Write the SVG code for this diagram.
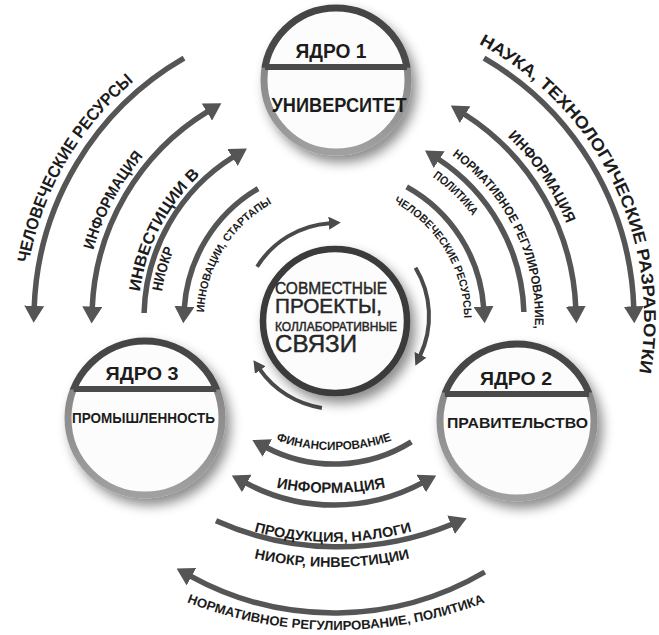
<svg xmlns="http://www.w3.org/2000/svg" width="659" height="635" viewBox="0 0 659 635">
<defs>
<style>
.lbl{font-family:"Liberation Sans",Arial,sans-serif;font-weight:700;fill:#1c1c1c}
.ctr{font-family:"Liberation Sans",Arial,sans-serif;font-weight:400;fill:#262626;stroke:#262626;stroke-width:0.45}
.arc{fill:none;stroke:#555;stroke-width:5.5}
.arcS{fill:none;stroke:#4a4a4a;stroke-width:4}
.ring{fill:#fcfcfc;stroke-width:7}
.div{stroke:#4a4a4a;stroke-width:6}
</style>
<linearGradient id="gTop" x1="0" y1="0" x2="0" y2="1">
<stop offset="0" stop-color="#444"/><stop offset="0.41" stop-color="#4a4a4a"/><stop offset="0.42" stop-color="#888"/><stop offset="1" stop-color="#a0a0a0"/>
</linearGradient>
<linearGradient id="gSide" x1="0" y1="0" x2="0" y2="1">
<stop offset="0" stop-color="#444"/><stop offset="0.31" stop-color="#4a4a4a"/><stop offset="0.32" stop-color="#888"/><stop offset="1" stop-color="#a0a0a0"/>
</linearGradient>
<marker id="ah" viewBox="0 0 10 10" refX="1" refY="5" markerWidth="17" markerHeight="20" markerUnits="userSpaceOnUse" orient="auto-start-reverse" preserveAspectRatio="none">
<path d="M0,0 L10,5 L0,10 z" fill="#555"/>
</marker>
<marker id="ahS" viewBox="0 0 10 10" refX="1" refY="5" markerWidth="12" markerHeight="13" markerUnits="userSpaceOnUse" orient="auto" preserveAspectRatio="none">
<path d="M0,0 L10,5 L0,10 z" fill="#4a4a4a"/>
</marker>
<filter id="sh" x="-30%" y="-30%" width="170%" height="170%">
<feGaussianBlur in="SourceAlpha" stdDeviation="6"/>
<feOffset dx="5" dy="7" result="b"/>
<feFlood flood-color="#000" flood-opacity="0.45"/>
<feComposite in2="b" operator="in"/>
<feMerge><feMergeNode/><feMergeNode in="SourceGraphic"/></feMerge>
</filter>
<path id="p-l1" d="M24,318 A310,310 0 0 1 179,49.5"/>
<path id="p-l2" d="M84.3,304.9 A250,250 0 0 1 183.5,118.3"/>
<path id="p-l3a" d="M138.2,310.1 A196,196 0 0 1 214.1,162.9"/>
<path id="p-l3b" d="M160,315 A174,174 0 0 1 184.9,228.4"/>
<path id="p-l4" d="M204.2,324.8 A130,130 0 0 1 283.2,198.3"/>
<path id="p-r1" d="M450.1,30.6 A310,310 0 0 1 632,403.4"/>
<path id="p-r2" d="M480.8,114.4 A251,251 0 0 1 577.3,256.4"/>
<path id="p-r3a" d="M433,143.1 A201,201 0 0 1 532.2,351.2"/>
<path id="p-r3b" d="M404.8,161.2 A172,172 0 0 1 489,243.4"/>
<path id="p-r4" d="M375.7,194.9 A130,130 0 0 1 462.5,337.7"/>
<path id="p-b1" d="M244,425.9 A180,180 0 0 0 424,425.9"/>
<path id="p-b2" d="M235.2,476.1 A280,280 0 0 0 426.8,476.1"/>
<path id="p-b3a" d="M230.4,523.9 A300,300 0 0 0 435.6,523.9"/>
<path id="p-b3b" d="M223.8,549.9 A350,350 0 0 0 440.2,549.9"/>
<path id="p-b4" d="M140.7,581.3 A416,416 0 0 0 531.3,581.3"/>
</defs>
<rect width="659" height="635" fill="#fff"/>

<g id="connectors">
<path class="arc" d="M184,58.2 A300,300 0 0 0 34.2,307.5" marker-end="url(#ah)"/>
<path class="arc" d="M208.3,111.2 A242,242 0 0 0 92.2,308.3" marker-start="url(#ah)" marker-end="url(#ah)"/>
<path class="arc" d="M144.1,313 A190,190 0 0 1 233.9,156.5" marker-end="url(#ah)"/>
<path class="arc" d="M258.1,188.6 A150,150 0 0 0 184.3,308.1" marker-end="url(#ah)"/>
<path class="arc" d="M484,58.2 A300,300 0 0 1 633.8,308" marker-end="url(#ah)"/>
<path class="arc" d="M463.7,113.7 A242,242 0 0 1 575.8,307.9" marker-start="url(#ah)" marker-end="url(#ah)"/>
<path class="arc" d="M523.9,312 A190,190 0 0 0 437.8,158.8" marker-end="url(#ah)"/>
<path class="arc" d="M406.7,186.8 A150,150 0 0 1 483.7,308.1" marker-end="url(#ah)"/>
<path class="arc" d="M411.4,441.8 A146,146 0 0 1 265.9,447.2" marker-end="url(#ah)"/>
<path class="arc" d="M422.7,482.7 A187,187 0 0 1 245.3,482.7" marker-start="url(#ah)" marker-end="url(#ah)"/>
<path class="arc" d="M216,520.8 A299,299 0 0 0 452.6,524" marker-end="url(#ah)"/>
<path class="arc" d="M484.8,572 A298,298 0 0 1 190,575.9" marker-end="url(#ah)"/>
<path class="arcS" d="M257.1,266.7 A93,93 0 0 1 330,223.2" marker-end="url(#ahS)"/>
<path class="arcS" d="M415.5,267.7 A93,93 0 0 1 420,355.9" marker-end="url(#ahS)"/>
<path class="arcS" d="M321.9,407.9 A93,93 0 0 1 259.6,369.1" marker-end="url(#ahS)"/>
</g>

<g id="connector-labels" class="lbl" text-anchor="middle">
<text font-size="17"><textPath href="#p-l1" startOffset="50%" textLength="214" lengthAdjust="spacingAndGlyphs">ЧЕЛОВЕЧЕСКИЕ РЕСУРСЫ</textPath></text>
<text font-size="15.5"><textPath href="#p-l2" startOffset="50%" textLength="107" lengthAdjust="spacingAndGlyphs">ИНФОРМАЦИЯ</textPath></text>
<text font-size="16"><textPath href="#p-l3a" startOffset="50%" textLength="134" lengthAdjust="spacingAndGlyphs">ИНВЕСТИЦИИ В</textPath></text>
<text font-size="14.5"><textPath href="#p-l3b" startOffset="50%" textLength="44" lengthAdjust="spacingAndGlyphs">НИОКР</textPath></text>
<text font-size="11"><textPath href="#p-l4" startOffset="50%" textLength="134" lengthAdjust="spacingAndGlyphs">ИННОВАЦИИ, СТАРТАПЫ</textPath></text>
<text font-size="17"><textPath href="#p-r1" startOffset="50%" textLength="391" lengthAdjust="spacingAndGlyphs">НАУКА, ТЕХНОЛОГИЧЕСКИЕ РАЗРАБОТКИ</textPath></text>
<text font-size="15"><textPath href="#p-r2" startOffset="50%" textLength="106" lengthAdjust="spacingAndGlyphs">ИНФОРМАЦИЯ</textPath></text>
<text font-size="12.5"><textPath href="#p-r3a" startOffset="50%" textLength="200" lengthAdjust="spacingAndGlyphs">НОРМАТИВНОЕ РЕГУЛИРОВАНИЕ,</textPath></text>
<text font-size="12"><textPath href="#p-r3b" startOffset="50%" textLength="56" lengthAdjust="spacingAndGlyphs">ПОЛИТИКА</textPath></text>
<text font-size="11"><textPath href="#p-r4" startOffset="50%" textLength="142" lengthAdjust="spacingAndGlyphs">ЧЕЛОВЕЧЕСКИЕ РЕСУРСЫ</textPath></text>
<text font-size="12"><textPath href="#p-b1" startOffset="50%" textLength="118" lengthAdjust="spacingAndGlyphs">ФИНАНСИРОВАНИЕ</textPath></text>
<text font-size="15"><textPath href="#p-b2" startOffset="50%" textLength="110" lengthAdjust="spacingAndGlyphs">ИНФОРМАЦИЯ</textPath></text>
<text font-size="14"><textPath href="#p-b3a" startOffset="50%" textLength="160" lengthAdjust="spacingAndGlyphs">ПРОДУКЦИЯ, НАЛОГИ</textPath></text>
<text font-size="14"><textPath href="#p-b3b" startOffset="50%" textLength="157" lengthAdjust="spacingAndGlyphs">НИОКР, ИНВЕСТИЦИИ</textPath></text>
<text font-size="13"><textPath href="#p-b4" startOffset="50%" textLength="305" lengthAdjust="spacingAndGlyphs">НОРМАТИВНОЕ РЕГУЛИРОВАНИЕ, ПОЛИТИКА</textPath></text>
</g>

<g id="core1">
<circle cx="336" cy="80" r="72" class="ring" stroke="url(#gTop)" filter="url(#sh)"/>
<line x1="265" y1="67" x2="407" y2="67" class="div"/>
<text class="lbl" x="331" y="58" font-size="20" text-anchor="middle" textLength="71" lengthAdjust="spacingAndGlyphs">ЯДРО 1</text>
<text class="lbl" x="339" y="112" font-size="20" text-anchor="middle" textLength="135" lengthAdjust="spacingAndGlyphs">УНИВЕРСИТЕТ</text>
</g>

<g id="core3">
<circle cx="145" cy="418" r="77" class="ring" stroke="url(#gSide)" filter="url(#sh)"/>
<line x1="73.7" y1="389" x2="216.3" y2="389" class="div"/>
<text class="lbl" x="142" y="380" font-size="19" text-anchor="middle" textLength="73" lengthAdjust="spacingAndGlyphs">ЯДРО 3</text>
<text class="lbl" x="143.5" y="423" font-size="14" text-anchor="middle" textLength="143" lengthAdjust="spacingAndGlyphs">ПРОМЫШЛЕННОСТЬ</text>
</g>

<g id="core2">
<circle cx="517" cy="421" r="77" class="ring" stroke="url(#gSide)" filter="url(#sh)"/>
<line x1="444.9" y1="394" x2="589.1" y2="394" class="div"/>
<text class="lbl" x="516" y="385" font-size="19" text-anchor="middle" textLength="72" lengthAdjust="spacingAndGlyphs">ЯДРО 2</text>
<text class="lbl" x="517.5" y="428" font-size="15" text-anchor="middle" textLength="141" lengthAdjust="spacingAndGlyphs">ПРАВИТЕЛЬСТВО</text>
</g>

<g id="center">
<circle cx="335" cy="321" r="72" fill="#fcfcfc" stroke="#3a3a3a" stroke-width="6.5" filter="url(#sh)"/>
<text class="ctr" x="275" y="294" font-size="17" textLength="112" lengthAdjust="spacingAndGlyphs">СОВМЕСТНЫЕ</text>
<text class="ctr" x="275" y="313" font-size="21" textLength="107" lengthAdjust="spacingAndGlyphs">ПРОЕКТЫ,</text>
<text class="ctr" x="275" y="331" font-size="12" textLength="122" lengthAdjust="spacingAndGlyphs">КОЛЛАБОРАТИВНЫЕ</text>
<text class="ctr" x="275" y="352" font-size="23.5" textLength="82" lengthAdjust="spacingAndGlyphs">СВЯЗИ</text>
</g>
</svg>
